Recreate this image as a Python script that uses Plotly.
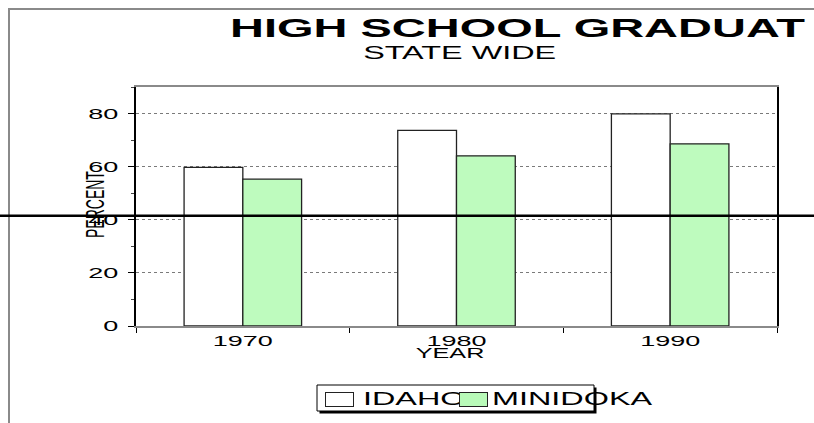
import plotly.graph_objects as go

# ---- data ----
years = ["1970", "1980", "1990"]
idaho = [59.7, 73.7, 79.9]
minidoka = [55.3, 64.1, 68.6]
series_names = ["IDAHO", "MINIDOKA"]
title_text = "HIGH SCHOOL GRADUAT"
subtitle_text = "STATE WIDE"
x_title = "YEAR"
y_title = "PERCENT"

W, H = 814, 423
ML, MR, MT, MB = 136, 37, 87, 97
PW, PH = W - ML - MR, H - MT - MB


def px(x):
    return (x - ML) / PW


def py(y):
    return (H - MB - y) / PH


FONT = "Arial, Liberation Sans, sans-serif"

fig = go.Figure()
fig.add_trace(go.Bar(
    x=years, y=idaho, name=series_names[0],
    marker=dict(color="white", line=dict(color="#222222", width=1.3)),
))
fig.add_trace(go.Bar(
    x=years, y=minidoka, name=series_names[1],
    marker=dict(color="#c8ffc8",
                pattern=dict(shape="|", fgcolor="#94f894", bgcolor="#e8ffe8",
                             size=2, solidity=0.5, fillmode="replace"),
                line=dict(color="#222222", width=1.3)),
))

shapes = [
    # outer frame (top & left)
    dict(type="line", xref="paper", yref="paper", x0=px(8), x1=px(830), y0=py(9), y1=py(9),
         line=dict(color="#8a8a8a", width=2)),
    dict(type="line", xref="paper", yref="paper", x0=px(9), x1=px(9), y0=py(9), y1=py(440),
         line=dict(color="#8a8a8a", width=2)),
    # horizontal black line across the whole chart
    dict(type="line", xref="paper", yref="paper", x0=px(-5), x1=px(830), y0=py(215.7), y1=py(215.7),
         line=dict(color="black", width=2.5), layer="above"),
    # legend box shadow + box
    dict(type="rect", xref="paper", yref="paper", x0=px(319.5), x1=px(596.5), y0=py(387.5), y1=py(413.5),
         fillcolor="black", line=dict(width=0)),
    dict(type="rect", xref="paper", yref="paper", x0=px(317), x1=px(594), y0=py(385), y1=py(411),
         fillcolor="white", line=dict(color="black", width=1)),
]

annotations = [
    dict(text="<b>" + title_text + "</b>", xref="paper", yref="paper", x=px(229), y=py(28),
         xanchor="left", yanchor="middle", align="left", showarrow=False, borderpad=0,
         font=dict(family=FONT, size=26.1, color="black")),
    dict(text=subtitle_text, xref="paper", yref="paper", x=px(459), y=py(53.4),
         xanchor="center", yanchor="middle", showarrow=False, borderpad=0,
         font=dict(family=FONT, size=18, color="black")),
    dict(text=y_title, xref="paper", yref="paper", x=px(95), y=py(205), textangle=-90,
         xanchor="center", yanchor="middle", showarrow=False, borderpad=0,
         font=dict(family=FONT, size=14, color="black")),
    dict(text=x_title, xref="paper", yref="paper", x=px(450), y=py(353),
         xanchor="center", yanchor="middle", showarrow=False, borderpad=0,
         font=dict(family=FONT, size=14, color="black")),
    dict(text=series_names[0], xref="paper", yref="paper", x=px(362), y=py(399),
         xanchor="left", yanchor="middle", align="left", showarrow=False, borderpad=0,
         font=dict(family=FONT, size=18, color="black")),
    dict(text=series_names[1], xref="paper", yref="paper", x=px(491), y=py(399),
         xanchor="left", yanchor="middle", align="left", showarrow=False, borderpad=0,
         font=dict(family=FONT, size=18, color="black")),
    # legend swatches (drawn over the text)
    dict(text=" ", xref="paper", yref="paper", x=px(339.5), y=py(399.2), width=27, height=13,
         xanchor="center", yanchor="middle", showarrow=False, borderpad=0, borderwidth=1,
         bordercolor="#222222", bgcolor="white", font=dict(size=8)),
    dict(text=" ", xref="paper", yref="paper", x=px(474), y=py(399.2), width=27, height=13,
         xanchor="center", yanchor="middle", showarrow=False, borderpad=0, borderwidth=1,
         bordercolor="#222222", bgcolor="#b8fab8", font=dict(size=8)),
]

fig.update_layout(
    width=W, height=H,
    margin=dict(l=ML, r=MR, t=MT, b=MB, pad=0),
    paper_bgcolor="white", plot_bgcolor="white",
    barmode="group", bargap=0.45, bargroupgap=0,
    showlegend=False,
    shapes=shapes, annotations=annotations,
    font=dict(family=FONT, color="black"),
)
fig.update_xaxes(
    showline=True, linecolor="#8a8a8a", linewidth=1.5, mirror=True,
    ticks="outside", tickson="boundaries", ticklen=5, tickcolor="black", tickwidth=1.2,
    showgrid=False, tickfont=dict(family=FONT, size=15, color="black"),
)
fig.update_yaxes(
    range=[0, 90], dtick=20, tick0=0,
    showline=True, linecolor="black", linewidth=1.5, mirror=True,
    ticks="outside", ticklen=6, tickcolor="black", tickwidth=1.2,
    showgrid=True, gridcolor="#7a7a7a", griddash="dot", gridwidth=1,
    zeroline=False, ticklabelstandoff=7,
    minor=dict(dtick=10, ticks="outside", ticklen=3, tickcolor="#444444", showgrid=False),
    tickfont=dict(family=FONT, size=15, color="black"),
)

stretch_js = """
(function(){
  document.body.style.margin = '0';
  document.body.style.padding = '0';
  document.body.style.overflow = 'hidden';
  var gd = document.getElementById('{plot_id}');
  if (!gd) return;
  var S = 1.8;
  function toDM(m){ return new DOMMatrix([m.a, m.b, m.c, m.d, m.e, m.f]); }
  var texts = gd.querySelectorAll('svg text');
  texts.forEach(function(el){
    try {
      if (!el.textContent || !el.textContent.trim()) return;
      if (el.getAttribute('data-st')) return;
      var bb = el.getBBox();
      if (!bb.width) return;
      var anc = el.getAttribute('text-anchor') || 'start';
      var lx = anc === 'end' ? bb.x + bb.width : (anc === 'middle' ? bb.x + bb.width / 2 : bb.x);
      var ly = bb.y + bb.height / 2;
      var ctm = toDM(el.getCTM());
      var p = new DOMPoint(lx, ly).matrixTransform(ctm);
      var Sm = new DOMMatrix().translate(p.x, 0).scale(S, 1).translate(-p.x, 0);
      var pctm = toDM(el.parentNode.getCTM());
      var M = pctm.inverse().multiply(Sm).multiply(ctm);
      el.setAttribute('transform', 'matrix(' + [M.a, M.b, M.c, M.d, M.e, M.f].join(',') + ')');
      el.setAttribute('data-st', '1');
    } catch (e) {}
  });
})();
"""

fig.write_html("out.html", post_script=stretch_js, config={"displayModeBar": False})
